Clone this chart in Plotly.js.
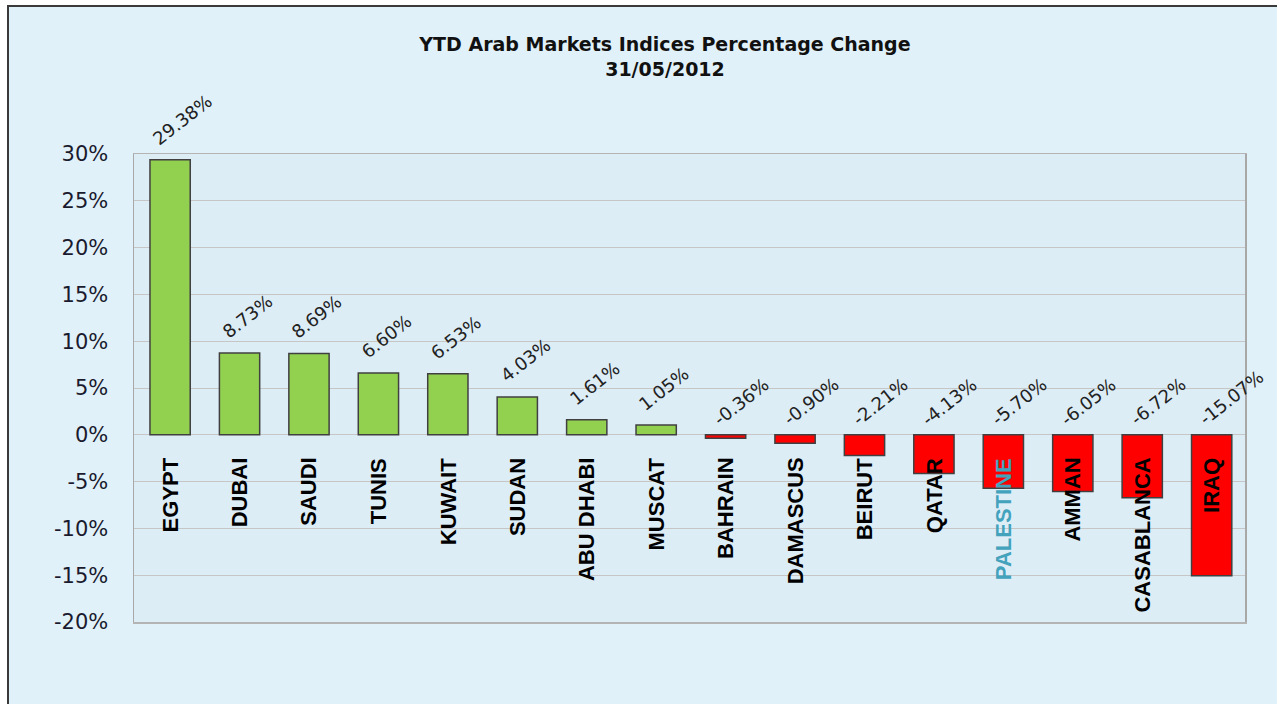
<!DOCTYPE html>
<html>
<head>
<meta charset="utf-8">
<script src="https://cdn.plot.ly/plotly-3.0.1.min.js"></script>
<style>
  html, body { margin: 0; padding: 0; background: #ffffff; width: 1277px; height: 704px; overflow: hidden; }
  #frame { position: absolute; left: 7px; top: 5px; width: 1275px; height: 697px;
           border-left: 2px solid #3a3a3a; border-top: 2px solid #3a3a3a; border-bottom: 1px solid #8a8a8a; background: #E1F1F9; }
  #chart { width: 1275px; height: 697px; }
</style>
</head>
<body>
<div id="frame"><div id="chart"></div></div>
<script>
const markets = ["EGYPT", "DUBAI", "SAUDI", "TUNIS", "KUWAIT", "SUDAN", "ABU DHABI", "MUSCAT",
                 "BAHRAIN", "DAMASCUS", "BEIRUT", "QATAR", "PALESTINE", "AMMAN", "CASABLANCA", "IRAQ"];
const ytdChange = [29.38, 8.73, 8.69, 6.60, 6.53, 4.03, 1.61, 1.05,
                   -0.36, -0.90, -2.21, -4.13, -5.70, -6.05, -6.72, -15.07];
const yTickValues = [30, 25, 20, 15, 10, 5, 0, -5, -10, -15, -20];
const yTickLabels = ["30%", "25%", "20%", "15%", "10%", "5%", "0%", "-5%", "-10%", "-15%", "-20%"];
const titleLines = ["YTD Arab Markets Indices Percentage Change", "31/05/2012"];

const barColors = ytdChange.map(v => v >= 0 ? "#92D050" : "#FF0000");

const trace = {
  type: "bar",
  x: markets,
  y: ytdChange,
  marker: { color: barColors, line: { color: "#404040", width: 1.5 } },
  hoverinfo: "x+y"
};

const annotations = [];
markets.forEach((m, i) => {
  const v = ytdChange[i];
  const neg = v < 0;
  annotations.push({
    x: m, y: Math.max(v, 0), xref: "x", yref: "y",
    text: v.toFixed(2) + "%",
    textangle: -38, showarrow: false,
    xanchor: "left", yanchor: "bottom", xshift: neg ? -19 : -24, yshift: neg ? 3 : 8,
    font: { family: "DejaVu Sans", size: 18, color: "#222222" }
  });
  annotations.push({
    x: m, y: 0, xref: "x", yref: "y",
    text: "<b>" + m + "</b>",
    textangle: -90, showarrow: false,
    xanchor: "center", yanchor: "top", yshift: -21,
    font: { family: "Liberation Sans", size: 22, color: m === "PALESTINE" ? "#43A2BC" : "#000000" }
  });
});

const layout = {
  width: 1275, height: 697,
  paper_bgcolor: "#E1F1F9",
  plot_bgcolor: "#DDEDF6",
  margin: { l: 125, r: 39, t: 147, b: 82, pad: 0 },
  showlegend: false,
  bargap: 0.42,
  title: {
    text: "<b>" + titleLines.join("<br>") + "</b>",
    xref: "container", x: 0.5145, xanchor: "center",
    yref: "container", y: 1 - 44 / 697, yanchor: "top",
    font: { family: "DejaVu Sans", size: 19, color: "#111111" }
  },
  xaxis: {
    type: "category",
    range: [-0.52, 15.48],
    autorange: false,
    showticklabels: false,
    showgrid: false,
    showline: true, mirror: true, linecolor: "#B4B4B4", linewidth: 1.5,
    ticks: ""
  },
  yaxis: {
    range: [-20, 30],
    autorange: false,
    tickmode: "array",
    tickvals: yTickValues,
    ticktext: yTickLabels,
    showgrid: true, gridcolor: "#C6C6C6", gridwidth: 1,
    zeroline: true, zerolinecolor: "#C6C6C6", zerolinewidth: 1,
    showline: true, mirror: true, linecolor: "#A8A8A8", linewidth: 1.5,
    ticks: "", ticklabelstandoff: 20,
    tickfont: { family: "DejaVu Sans", size: 21, color: "#1a1a2e" }
  },
  annotations: annotations
};

Plotly.newPlot("chart", [trace], layout, { displayModeBar: false, staticPlot: true });
</script>
</body>
</html>
